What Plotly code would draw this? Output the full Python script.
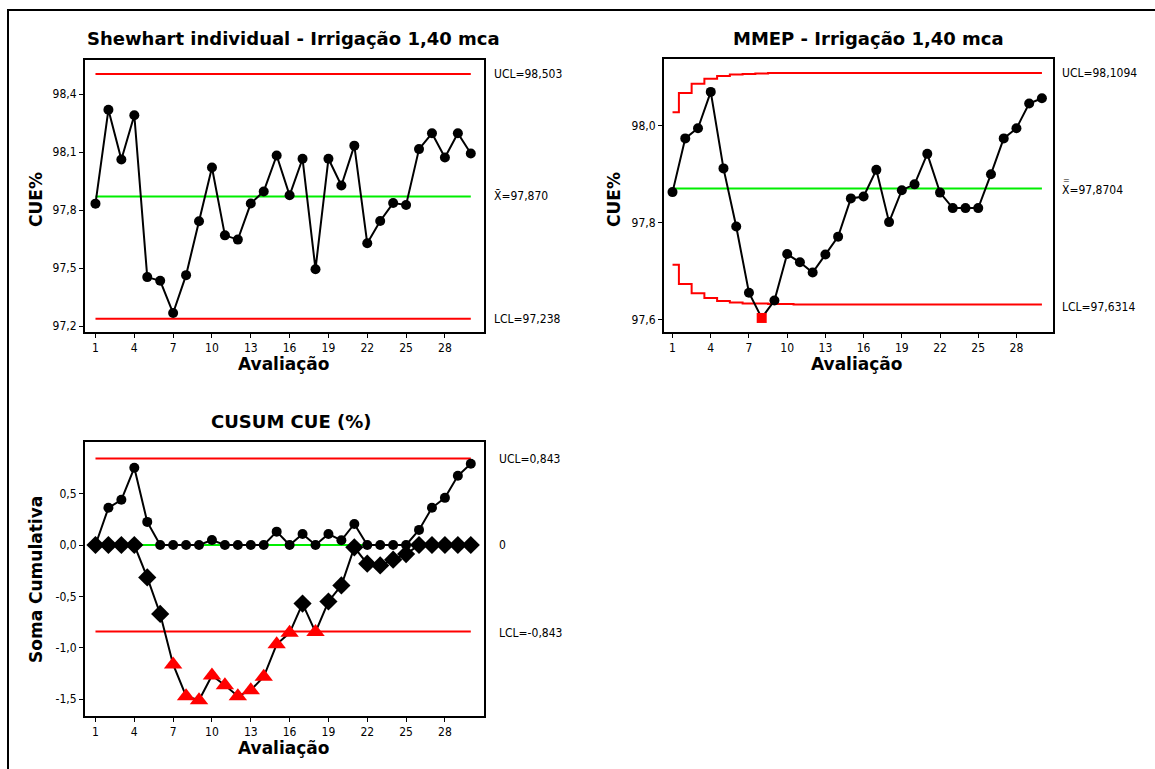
import plotly.graph_objects as go

W, H = 1155, 769

# ---------------- data ----------------
avaliacao = list(range(1, 31))
x_ticks = [1, 4, 7, 10, 13, 16, 19, 22, 25, 28]

# Shewhart individual chart
cue = [97.833, 98.319, 98.061, 98.290, 97.453, 97.434, 97.267, 97.463, 97.742, 98.020,
       97.669, 97.647, 97.834, 97.896, 98.082, 97.876, 98.065, 97.494, 98.065, 97.927,
       98.133, 97.628, 97.743, 97.836, 97.826, 98.115, 98.197, 98.072, 98.197, 98.092]
shew_ucl, shew_mean, shew_lcl = 98.503, 97.870, 97.238
shew_yticks = [97.2, 97.5, 97.8, 98.1, 98.4]
shew_yticktext = ["97,2", "97,5", "97,8", "98,1", "98,4"]

# MMEP (EWMA) chart
mmep = [97.863, 97.974, 97.995, 98.070, 97.912, 97.792, 97.655, 97.603, 97.639, 97.735,
        97.718, 97.697, 97.734, 97.771, 97.850, 97.854, 97.909, 97.801, 97.867, 97.879,
        97.942, 97.862, 97.830, 97.830, 97.830, 97.900, 97.974, 97.995, 98.046, 98.057]
mmep_ucl = [98.028, 98.068, 98.087, 98.097, 98.103, 98.106, 98.107, 98.108, 98.109, 98.109,
            98.109, 98.109, 98.109, 98.109, 98.109, 98.109, 98.109, 98.109, 98.109, 98.109,
            98.109, 98.109, 98.109, 98.109, 98.109, 98.109, 98.109, 98.109, 98.109, 98.109]
mmep_lcl = [97.713, 97.673, 97.654, 97.644, 97.638, 97.635, 97.633, 97.633, 97.632, 97.632,
            97.631, 97.631, 97.631, 97.631, 97.631, 97.631, 97.631, 97.631, 97.631, 97.631,
            97.631, 97.631, 97.631, 97.631, 97.631, 97.631, 97.631, 97.631, 97.631, 97.631]
mmep_mean = 97.8704
mmep_yticks = [97.6, 97.8, 98.0]
mmep_yticktext = ["97,6", "97,8", "98,0"]

# CUSUM chart
cusum_up = [0.0, 0.362, 0.440, 0.752, 0.225, 0.0, 0.0, 0.0, 0.0, 0.049,
            0.0, 0.0, 0.0, 0.0, 0.130, 0.0, 0.107, 0.0, 0.107, 0.046,
            0.205, 0.0, 0.0, 0.0, 0.0, 0.147, 0.362, 0.459, 0.674, 0.792]
cusum_lo = [0.0, 0.0, 0.0, 0.0, -0.316, -0.671, -1.163, -1.472, -1.511, -1.270,
            -1.365, -1.472, -1.414, -1.283, -0.967, -0.855, -0.570, -0.848, -0.550, -0.394,
            -0.023, -0.182, -0.199, -0.143, -0.088, 0.0, 0.0, 0.0, 0.0, 0.0]
cusum_ucl, cusum_lcl = 0.843, -0.843
cusum_yticks = [-1.5, -1.0, -0.5, 0.0, 0.5]
cusum_yticktext = ["-1,5", "-1,0", "-0,5", "0,0", "0,5"]

# ---------------- styling helpers ----------------
RED = "#FF0000"
GREEN = "#00EE00"
NARROW = "Liberation Sans Narrow, DejaVu Sans Condensed, Liberation Sans, sans-serif"
TICKFONT = dict(family=NARROW, size=12, color="black")
BOLD = "DejaVu Sans, Verdana, sans-serif"


def px(x):
    return x / W


def py(y):
    return 1 - y / H


fig = go.Figure()


def add_line(x, y, xa, ya, color, width=2, shape="linear"):
    fig.add_trace(go.Scatter(x=x, y=y, mode="lines", xaxis=xa, yaxis=ya,
                             line=dict(color=color, width=width, shape=shape),
                             hoverinfo="skip", showlegend=False))


def add_markers(x, y, xa, ya, color, size, symbol):
    if not x:
        return
    fig.add_trace(go.Scatter(x=x, y=y, mode="markers", xaxis=xa, yaxis=ya,
                             marker=dict(color=color, size=size, symbol=symbol, opacity=1,
                                         line=dict(width=0)),
                             showlegend=False))


# ---- Panel 1: Shewhart ----
add_line([1, 30], [shew_ucl, shew_ucl], "x", "y", RED)
add_line([1, 30], [shew_lcl, shew_lcl], "x", "y", RED)
add_line([1, 30], [shew_mean, shew_mean], "x", "y", GREEN)
add_line(avaliacao, cue, "x", "y", "black")
add_markers(avaliacao, cue, "x", "y", "black", 10, "circle")

# ---- Panel 2: MMEP ----
add_line(avaliacao, mmep_ucl, "x2", "y2", RED, shape="hvh")
add_line(avaliacao, mmep_lcl, "x2", "y2", RED, shape="hvh")
add_line([1, 30], [mmep_mean, mmep_mean], "x2", "y2", GREEN)
add_line(avaliacao, mmep, "x2", "y2", "black")
out = [(lo <= v <= up) for v, lo, up in zip(mmep, mmep_lcl, mmep_ucl)]
add_markers([a for a, o in zip(avaliacao, out) if o], [v for v, o in zip(mmep, out) if o],
            "x2", "y2", "black", 10, "circle")
add_markers([a for a, o in zip(avaliacao, out) if not o], [v for v, o in zip(mmep, out) if not o],
            "x2", "y2", RED, 10, "square")

# ---- Panel 3: CUSUM ----
add_line([1, 30], [cusum_ucl, cusum_ucl], "x3", "y3", RED)
add_line([1, 30], [cusum_lcl, cusum_lcl], "x3", "y3", RED)
add_line([1, 30], [0, 0], "x3", "y3", GREEN)
add_line(avaliacao, cusum_lo, "x3", "y3", "black")
add_line(avaliacao, cusum_up, "x3", "y3", "black")
ok = [v >= cusum_lcl for v in cusum_lo]
add_markers([a for a, o in zip(avaliacao, ok) if o], [v for v, o in zip(cusum_lo, ok) if o],
            "x3", "y3", "black", 14, "diamond")
add_markers([a for a, o in zip(avaliacao, ok) if not o], [v for v, o in zip(cusum_lo, ok) if not o],
            "x3", "y3", RED, 16, "triangle-up")
add_markers(avaliacao, cusum_up, "x3", "y3", "black", 10, "circle")


# ---------------- axes ----------------
def xaxis(domain, rng, anchor):
    return dict(domain=domain, range=rng, anchor=anchor, tickmode="array", tickvals=x_ticks,
                ticktext=[str(t) for t in x_ticks], showgrid=False, zeroline=False,
                showline=True, mirror=True, linecolor="black", linewidth=2,
                ticks="outside", ticklen=4, tickwidth=1, tickcolor="black", tickfont=TICKFONT)


def yaxis(domain, rng, anchor, tv, tt):
    return dict(domain=domain, range=rng, anchor=anchor, tickmode="array", tickvals=tv,
                ticktext=tt, showgrid=False, zeroline=False,
                showline=True, mirror=True, linecolor="black", linewidth=2,
                ticks="outside", ticklen=4, tickwidth=1, tickcolor="black", tickfont=TICKFONT)


p1x = [px(85), px(484)]
p1y = [py(332), py(60)]
p2x = [px(664), px(1053)]
p2y = [py(332), py(59)]
p3x = [px(85), px(484)]
p3y = [py(716), py(442)]

fig.update_layout(
    xaxis=xaxis(p1x, [0.19, 31.02], "y"),
    yaxis=yaxis(p1y, [97.169, 98.576], "x", shew_yticks, shew_yticktext),
    xaxis2=xaxis(p2x, [0.33, 30.87], "y2"),
    yaxis2=yaxis(p2y, [97.574, 98.138], "x2", mmep_yticks, mmep_yticktext),
    xaxis3=xaxis(p3x, [0.19, 31.02], "y3"),
    yaxis3=yaxis(p3y, [-1.665, 1.003], "x3", cusum_yticks, cusum_yticktext),
)

# ---------------- text ----------------
ann = []


def text(x, y, t, size=12, bold=False, angle=0, xanchor="center"):
    f = dict(family=BOLD if bold else NARROW, size=size, color="black")
    ann.append(dict(x=px(x), y=py(y), xref="paper", yref="paper",
                    text=("<b>%s</b>" % t) if bold else t,
                    showarrow=False, font=f, textangle=angle, xanchor=xanchor, yanchor="middle"))


# titles
text(293, 38, "Shewhart individual - Irrigação 1,40 mca", size=18, bold=True)
text(868, 38, "MMEP - Irrigação 1,40 mca", size=18, bold=True)
text(291, 421, "CUSUM CUE (%)", size=18, bold=True)
# axis titles
text(36, 200, "CUE%", size=17, bold=True, angle=-90)
text(614, 200, "CUE%", size=17, bold=True, angle=-90)
text(36, 580, "Soma Cumulativa", size=17, bold=True, angle=-90)
text(283, 364, "Avaliação", size=17, bold=True)
text(856, 364, "Avaliação", size=17, bold=True)
text(283, 748, "Avaliação", size=17, bold=True)
# limit labels
text(492, 74, "UCL=98,503", xanchor="left")
text(492, 196, "X\u0304=97,870", xanchor="left")
text(492, 319, "LCL=97,238", xanchor="left")
text(1060, 73, "UCL=98,1094", xanchor="left")
text(1060, 190, "X=97,8704", xanchor="left")
text(1061, 180, "=", size=9, xanchor="left")
text(1060, 307, "LCL=97,6314", xanchor="left")
text(497, 459, "UCL=0,843", xanchor="left")
text(497, 545, "0", xanchor="left")
text(497, 633, "LCL=-0,843", xanchor="left")

fig.update_layout(
    width=W, height=H, margin=dict(l=0, r=0, t=0, b=0),
    paper_bgcolor="white", plot_bgcolor="white", annotations=ann, showlegend=False,
    shapes=[dict(type="rect", xref="paper", yref="paper", x0=px(8), x1=1.01, y0=-0.01, y1=py(10),
                 line=dict(color="black", width=2), layer="below")],
)

fig.write_html("out.html")
